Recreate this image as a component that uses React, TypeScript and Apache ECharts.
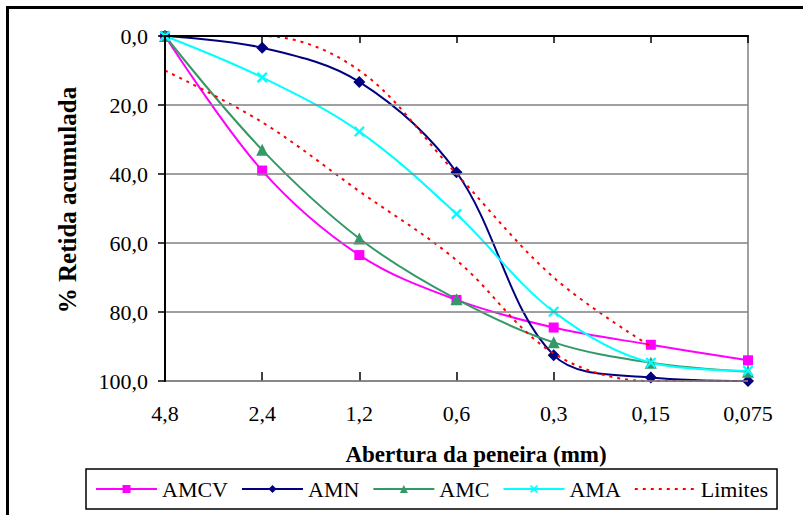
import React, { useEffect, useRef } from "react";
import * as echarts from "echarts";

const categories = ["4,8", "2,4", "1,2", "0,6", "0,3", "0,15", "0,075"];
const amcv = [0, 39, 63.5, 76.5, 84.5, 89.5, 94];
const amn = [0, 3.4, 13.3, 39.5, 92.5, 99, 100];
const amc = [0, 33, 58.7, 76.3, 88.8, 94.7, 97.3];
const ama = [0, 12, 27.7, 51.6, 79.9, 94.7, 97];
const limiteSup = [0, 0, 10, 40, 70, 90, null];
const limiteInf = [10, 25, 45, 65, 92, 100, 100];
const yTicks = { min: 0, max: 100, interval: 20 };

const FONT = "Times New Roman, Liberation Serif, DejaVu Serif, serif";
const X_PATH =
  "path://M0,1.5L1.5,0L5,3.5L8.5,0L10,1.5L6.5,5L10,8.5L8.5,10L5,6.5L1.5,10L0,8.5L3.5,5Z";

export default function App() {
  const ref = useRef<HTMLDivElement>(null);
  useEffect(() => {
    document.body.style.margin = "0";
    const chart = echarts.init(ref.current!, undefined, { renderer: "svg" });
    const lineSeries = (
      name: string,
      data: (number | null)[],
      color: string,
      symbol: string,
      symbolSize: number
    ) => ({
      name,
      type: "line",
      data,
      smooth: 0.35,
      symbol,
      symbolSize,
      showSymbol: true,
      lineStyle: { color, width: 2 },
      itemStyle: { color },
      z: 3,
    });
    const limite = (data: (number | null)[]) => ({
      name: "Limites",
      type: "line",
      data,
      smooth: 0.35,
      symbol: "none",
      connectNulls: false,
      lineStyle: { color: "#FF0000", width: 2, type: [3, 5] },
      itemStyle: { color: "#FF0000" },
      z: 4,
    });
    chart.setOption({
      animation: false,
      backgroundColor: "#fff",
      textStyle: { fontFamily: FONT },
      grid: {
        left: 165,
        top: 36,
        width: 583,
        height: 345,
        show: true,
        borderColor: "#808080",
        borderWidth: 1.5,
        backgroundColor: "transparent",
      },
      xAxis: [
        {
          type: "category",
          position: "bottom",
          data: categories,
          boundaryGap: false,
          axisLine: { show: true, lineStyle: { color: "#000", width: 2 } },
          axisTick: { show: true, interval: 0, length: 7, lineStyle: { color: "#000", width: 1.5 } },
          axisLabel: { interval: 0, margin: 21, fontFamily: FONT, fontSize: 22, color: "#000" },
          splitLine: { show: false },
          z: 5,
        },
        {
          type: "category",
          position: "bottom",
          offset: 0,
          data: categories,
          boundaryGap: false,
          axisLine: { show: false },
          axisTick: { show: true, inside: true, interval: 0, length: 9, lineStyle: { color: "#000", width: 1.5 } },
          axisLabel: { show: false },
          splitLine: { show: false },
        },
        {
          type: "category",
          position: "top",
          data: categories,
          boundaryGap: false,
          axisLine: { show: true, lineStyle: { color: "#222", width: 1.5 } },
          axisTick: { show: false },
          axisLabel: { show: false },
          splitLine: { show: false },
        },
      ],
      yAxis: {
        type: "value",
        inverse: true,
        min: yTicks.min,
        max: yTicks.max,
        interval: yTicks.interval,
        axisLine: { show: true, lineStyle: { color: "#000", width: 2 } },
        axisTick: { show: true, length: 7, lineStyle: { color: "#000", width: 1.5 } },
        axisLabel: {
          margin: 17,
          fontFamily: FONT,
          fontSize: 22,
          color: "#000",
          formatter: (v: number) => v.toFixed(1).replace(".", ","),
        },
        splitLine: { show: true, lineStyle: { color: "#808080", width: 1.5 } },
        z: 5,
      },
      legend: {
        left: 86,
        top: 469,
        orient: "horizontal",
        padding: [9, 9],
        itemGap: 13,
        itemWidth: 61,
        itemHeight: 10,
        borderColor: "#000",
        borderWidth: 1.5,
        textStyle: { fontFamily: FONT, fontSize: 22, color: "#000" },
        data: [
          "AMCV",
          "AMN",
          "AMC",
          "AMA",
          { name: "Limites", itemStyle: { color: "rgba(0,0,0,0)", borderWidth: 0, opacity: 0 } },
        ],
      },
      series: [
        lineSeries("AMCV", amcv, "#FF00FF", "rect", 10),
        lineSeries("AMN", amn, "#000080", "diamond", 12),
        lineSeries("AMC", amc, "#339966", "triangle", 12),
        lineSeries("AMA", ama, "#00FFFF", X_PATH, 11),
        limite(limiteSup),
        limite(limiteInf),
      ],
      graphic: [
        {
          type: "rect",
          shape: { x: 7.5, y: 7.5, width: 900, height: 600 },
          style: { fill: "none", stroke: "#000", lineWidth: 3 },
          silent: true,
        },
        {
          type: "text",
          x: 67,
          y: 200,
          rotation: Math.PI / 2,
          style: {
            text: "% Retida acumulada",
            fontFamily: FONT,
            fontSize: 25,
            fontWeight: "bold",
            fill: "#000",
            textAlign: "center",
            textVerticalAlign: "middle",
          },
        },
        {
          type: "text",
          x: 476,
          y: 454,
          style: {
            text: "Abertura da peneira (mm)",
            fontFamily: FONT,
            fontSize: 23,
            fontWeight: "bold",
            fill: "#000",
            textAlign: "center",
            textVerticalAlign: "middle",
          },
        },
      ],
    });
    return () => chart.dispose();
  }, []);
  return <div ref={ref} style={{ width: 803, height: 515 }} />;
}
